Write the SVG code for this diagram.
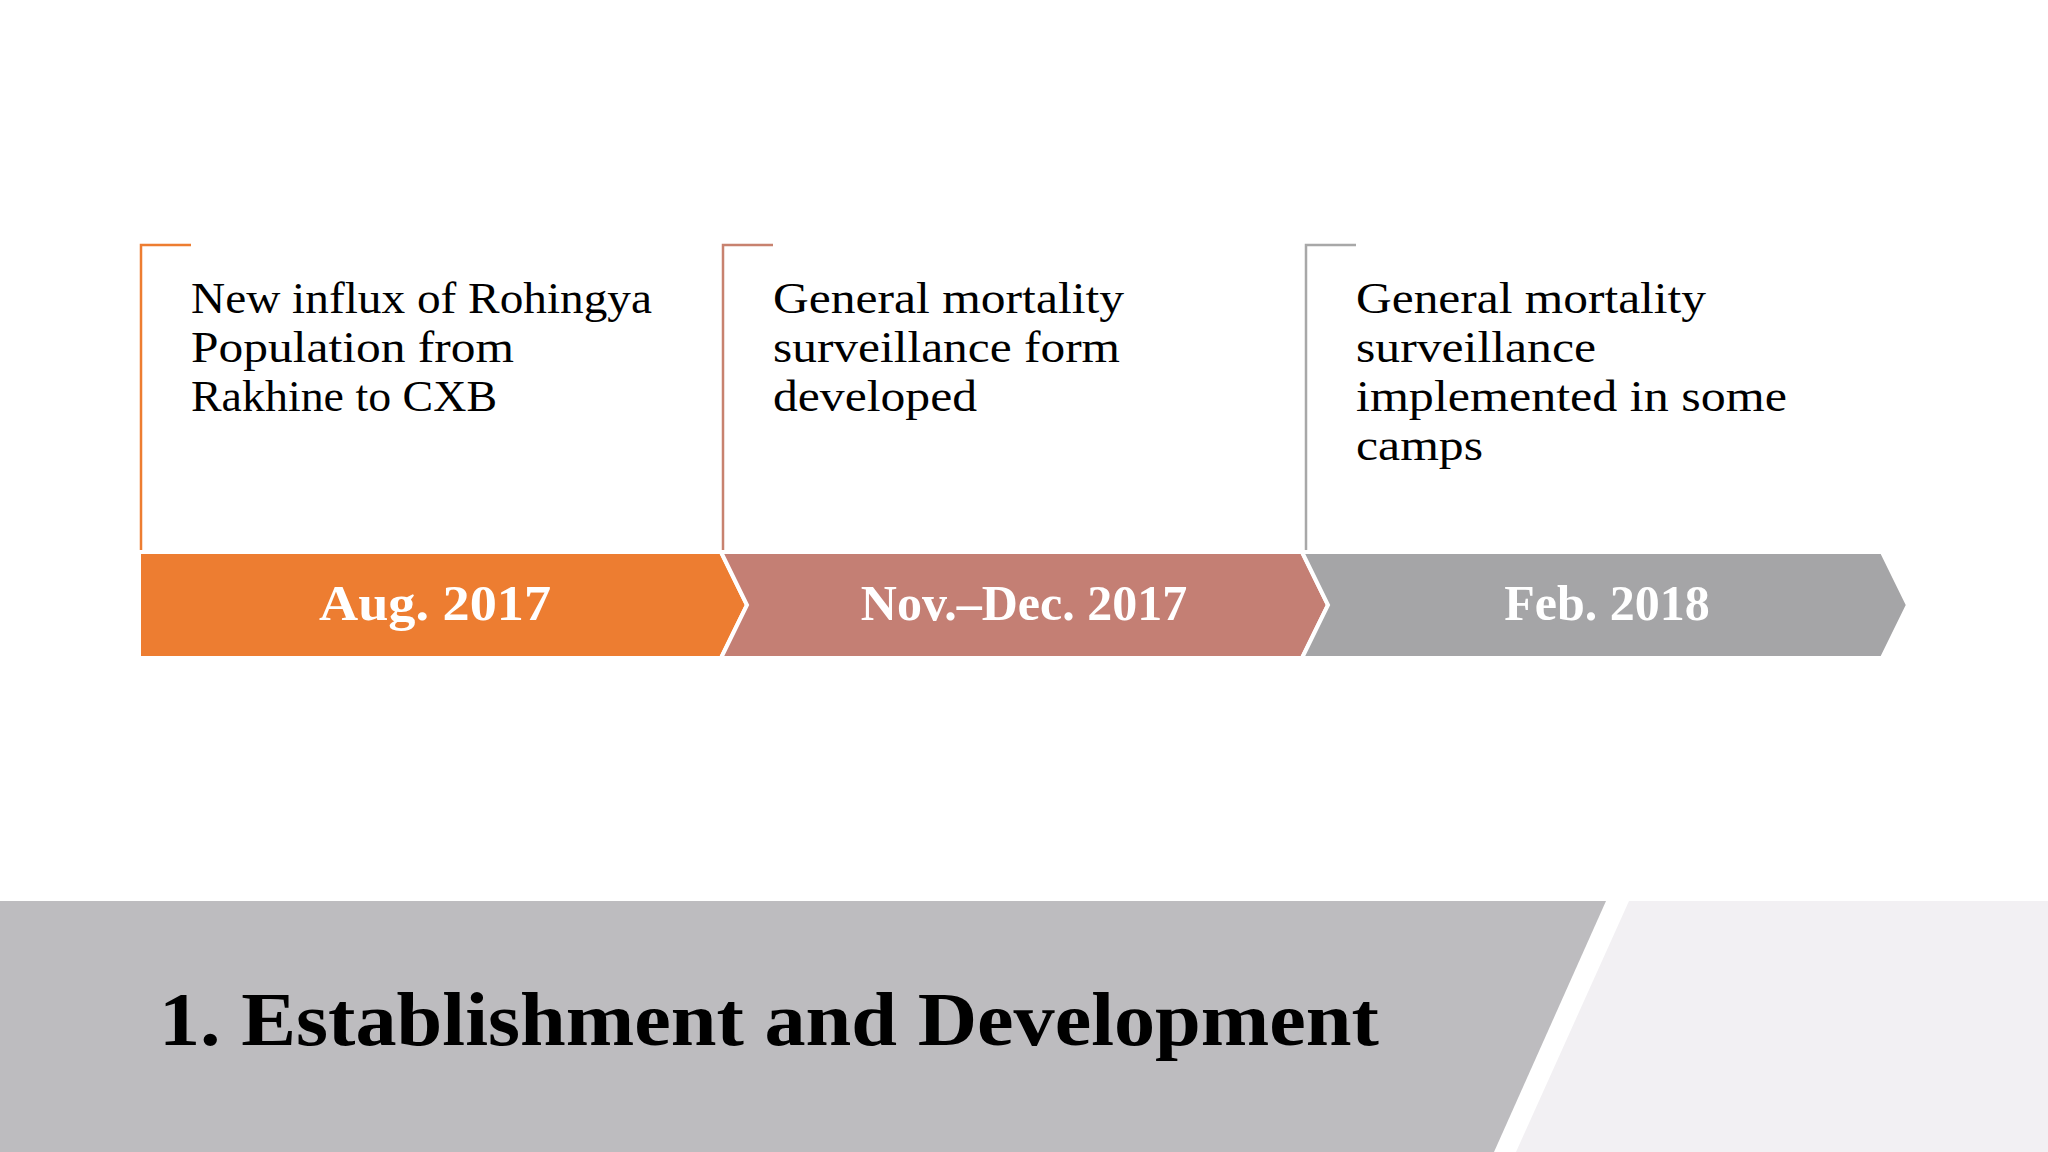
<svg xmlns="http://www.w3.org/2000/svg" width="2048" height="1152" viewBox="0 0 2048 1152">
<style>
.body{font-family:"Liberation Serif","Times New Roman",serif;font-size:45px;fill:#000}
.date{font-family:"Liberation Serif","Times New Roman",serif;font-size:50px;font-weight:bold;fill:#fff;text-anchor:middle}
.title{font-family:"Liberation Serif","Times New Roman",serif;font-size:76px;font-weight:bold;fill:#000}
.br{fill:none;stroke-width:2.5}
.arr{stroke:#fff;stroke-width:4;stroke-linejoin:miter}
</style>
<rect x="0" y="0" width="2048" height="1152" fill="#fff"/>
<g id="band">
<polygon points="0,901 1606,901 1494,1152 0,1152" fill="#BDBCBF"/>
<polygon points="1629,901 2048,901 2048,1152 1516,1152" fill="#F2F0F3"/>
<text class="title" x="159" y="1045" textLength="1220" lengthAdjust="spacingAndGlyphs">1. Establishment and Development</text>
</g>
<g id="node1">
<path class="br" stroke="#ED7D31" d="M191,245 H141 V552"/>
<path class="arr" fill="#ED7D31" d="M139,552 H721 L747,605 L721,658 H139 Z"/>
<text class="date" x="435" y="620" textLength="232" lengthAdjust="spacingAndGlyphs">Aug. 2017</text>
<text class="body" x="191" y="313" textLength="461" lengthAdjust="spacingAndGlyphs">New influx of Rohingya</text>
<text class="body" x="191" y="362" textLength="323" lengthAdjust="spacingAndGlyphs">Population from</text>
<text class="body" x="191" y="411" textLength="306" lengthAdjust="spacingAndGlyphs">Rakhine to CXB</text>
</g>
<g id="node2">
<path class="br" stroke="#C8826F" d="M773,245 H723 V552"/>
<path class="arr" fill="#C47F74" d="M721,552 H1302 L1328,605 L1302,658 H721 L747,605 Z"/>
<text class="date" x="1024" y="620">Nov.–Dec. 2017</text>
<text class="body" x="773" y="313" textLength="351" lengthAdjust="spacingAndGlyphs">General mortality</text>
<text class="body" x="773" y="362" textLength="347" lengthAdjust="spacingAndGlyphs">surveillance form</text>
<text class="body" x="773" y="411" textLength="204" lengthAdjust="spacingAndGlyphs">developed</text>
</g>
<g id="node3">
<path class="br" stroke="#A8A8A8" d="M1356,245 H1306 V552"/>
<path class="arr" fill="#A5A5A7" d="M1302,552 H1882 L1908,605 L1882,658 H1302 L1328,605 Z"/>
<text class="date" x="1607" y="620">Feb. 2018</text>
<text class="body" x="1356" y="313" textLength="350" lengthAdjust="spacingAndGlyphs">General mortality</text>
<text class="body" x="1356" y="362" textLength="240" lengthAdjust="spacingAndGlyphs">surveillance</text>
<text class="body" x="1356" y="411" textLength="431" lengthAdjust="spacingAndGlyphs">implemented in some</text>
<text class="body" x="1356" y="460" textLength="127" lengthAdjust="spacingAndGlyphs">camps</text>
</g>
<g id="connectors"></g>
</svg>
